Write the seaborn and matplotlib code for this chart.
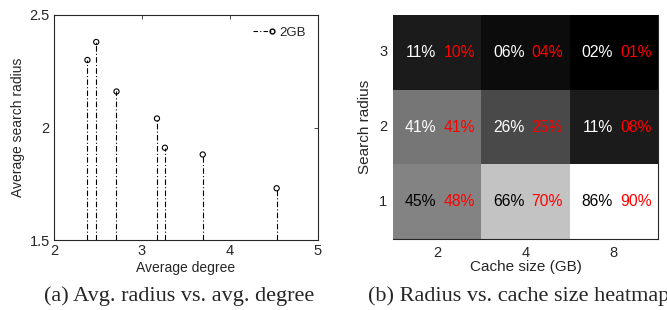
import numpy as np
import pandas as pd
import seaborn as sns
import matplotlib.pyplot as plt
from matplotlib.lines import Line2D
from matplotlib.legend_handler import HandlerLine2D

# panel (a) data
avg_degree = [2.38, 2.48, 2.71, 3.17, 3.26, 3.69, 4.53]
avg_radius = [2.30, 2.38, 2.16, 2.04, 1.91, 1.88, 1.73]

# panel (b) data
cache_sizes = ['2', '4', '8']
radii = ['3', '2', '1']
share_a = [[11, 6, 2],
           [41, 26, 11],
           [45, 66, 86]]
share_b = [[10, 4, 1],
           [41, 25, 8],
           [48, 70, 90]]


class EndMarkerHandler(HandlerLine2D):
    # stem-style legend key: marker sits at the right end of the line
    def create_artists(self, legend, orig_handle, xdescent, ydescent,
                       width, height, fontsize, trans):
        arts = super().create_artists(legend, orig_handle, xdescent, ydescent,
                                      width, height, fontsize, trans)
        line = arts[0]
        line.set_markevery([len(line.get_xdata()) - 1])
        return arts


sns.set_style('white')
plt.rcParams['font.family'] = ['Liberation Sans', 'DejaVu Sans']

fig = plt.figure(figsize=(6.67, 3.10), dpi=100)

# ---- (a) stem plot
ax1 = fig.add_axes([54 / 667, 70 / 310, 264 / 667, 225 / 310])
df = pd.DataFrame({'degree': avg_degree, 'radius': avg_radius})
ax1.vlines(df['degree'], 1.5, df['radius'], colors='black', linewidth=0.8,
           linestyles=(0, (5, 2, 1, 2)))
sns.scatterplot(data=df, x='degree', y='radius', ax=ax1, marker='o', s=14,
                facecolor='none', edgecolor='black', linewidth=0.8, zorder=3)
ax1.set_xlim(2, 5)
ax1.set_ylim(1.5, 2.5)
ax1.set_xticks([2, 3, 4, 5])
ax1.set_yticks([1.5, 2, 2.5])
ax1.set_yticklabels(['1.5', '2', '2.5'])
ax1.set_xlabel('Average degree', fontsize=10, color='#262626', labelpad=2)
ax1.set_ylabel('Average search radius', fontsize=10, color='#262626', labelpad=3)
ax1.tick_params(direction='in', length=3, width=0.6, labelsize=10.5,
                top=True, right=True, colors='#262626', pad=3)
for sp in ax1.spines.values():
    sp.set_color('#262626')
    sp.set_linewidth(0.8)
handle = Line2D([], [], color='black', linewidth=0.8, linestyle=(0, (4, 2, 1, 2)),
                marker='o', markersize=3.5, markerfacecolor='none')
ax1.legend([handle], ['2GB'], loc='upper right', frameon=False, fontsize=9.5,
           numpoints=1, handlelength=1.4, handletextpad=0.6, borderaxespad=0.5,
           handler_map={Line2D: EndMarkerHandler()})

# ---- (b) heatmap
ax2 = fig.add_axes([393 / 667, 71 / 310, 265 / 667, 224 / 310])
grid = pd.DataFrame(share_a, index=radii, columns=cache_sizes)
sns.heatmap(grid, ax=ax2, cmap='gray', vmin=2, vmax=86, cbar=False,
            linewidths=0, square=False)
for i in range(3):
    for j in range(3):
        v = share_a[i][j]
        c = 'white' if v < 44 else 'black'
        ax2.text(j + 0.49, i + 0.5, f'{v:02d}%', ha='right', va='center',
                 fontsize=11.3, color=c)
        ax2.text(j + 0.57, i + 0.5, f'{share_b[i][j]:02d}%', ha='left', va='center',
                 fontsize=11.3, color='#ff0000')
ax2.set_xlabel('Cache size (GB)', fontsize=11, color='#262626', labelpad=0)
ax2.set_ylabel('Search radius', fontsize=11, color='#262626', labelpad=5)
ax2.tick_params(axis='x', pad=5)
ax2.tick_params(axis='y', pad=4)
ax2.tick_params(direction='in', length=3, width=0.6, labelsize=10.5,
                colors='#262626', bottom=True, left=True, right=True)
ax2.set_yticklabels(radii, rotation=0)
ax2.set_xticklabels(cache_sizes, rotation=0)
for sp in ['bottom', 'right']:
    ax2.spines[sp].set_visible(True)
    ax2.spines[sp].set_color('#262626')
    ax2.spines[sp].set_linewidth(0.8)

# captions
fig.text(179 / 667, 0.028, '(a) Avg. radius vs. avg. degree', ha='center',
         va='baseline', fontsize=16, family=['Liberation Serif'])
fig.text(368 / 667, 0.028, '(b) Radius vs. cache size heatmap', ha='left',
         va='baseline', fontsize=16, family=['Liberation Serif'])

fig.savefig('out.png', dpi=100)
